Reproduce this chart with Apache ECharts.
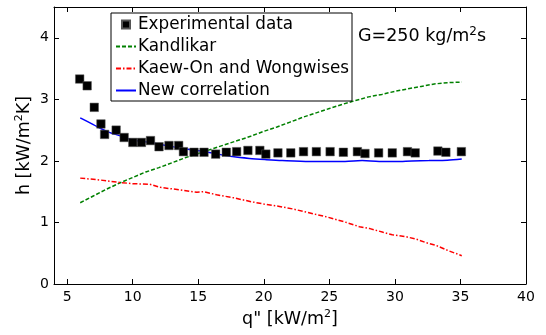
<!DOCTYPE html>
<html>
<head>
<meta charset="utf-8">
<script src="https://cdn.jsdelivr.net/npm/echarts@6/dist/echarts.min.js"></script>
<style>
  html, body { margin: 0; padding: 0; background: #fff; }
  #chart { width: 546px; height: 335px; }
</style>
</head>
<body>
<div id="chart"></div>
<script>
// experimental points [q, h]
const expData = [
  [5.96, 3.33], [6.53, 3.22], [7.07, 2.87], [7.58, 2.60], [7.86, 2.43],
  [8.74, 2.50], [9.35, 2.38], [10.01, 2.30], [10.67, 2.30], [11.36, 2.33],
  [12.01, 2.23], [12.77, 2.25], [13.51, 2.25], [13.87, 2.15], [14.68, 2.14],
  [15.44, 2.14], [16.33, 2.11], [17.14, 2.14], [17.93, 2.15], [18.79, 2.17],
  [19.70, 2.17], [20.16, 2.11], [21.08, 2.13], [22.06, 2.13], [23.03, 2.15],
  [24.01, 2.15], [25.06, 2.15], [26.07, 2.14], [27.14, 2.15], [27.72, 2.12],
  [28.76, 2.13], [29.80, 2.13], [30.96, 2.15], [31.55, 2.13], [33.28, 2.16],
  [33.89, 2.14], [35.07, 2.15]
]

const kandlikar = [
  [6, 1.32], [7, 1.43], [8, 1.54], [9, 1.64], [10, 1.73], [11, 1.82],
  [12, 1.89], [13, 1.97], [14, 2.05], [15, 2.12], [16, 2.19], [17, 2.26],
  [18, 2.33], [19, 2.40], [20, 2.48], [21, 2.55], [22, 2.63], [23, 2.71],
  [24, 2.78], [25, 2.85], [26, 2.92], [27, 2.98], [28, 3.04], [29, 3.08],
  [30, 3.13], [31, 3.17], [32, 3.21], [33, 3.25], [34, 3.27], [35.1, 3.28]
]

const kaewOn = [
  [6.0, 1.72], [7.5, 1.69], [9.0, 1.65], [10.0, 1.63], [11.3, 1.62],
  [12.1, 1.57], [13.6, 1.53], [14.9, 1.49], [15.4, 1.50], [16.4, 1.45],
  [17.7, 1.40], [19.2, 1.33], [20.0, 1.30], [21.2, 1.26], [22.2, 1.22],
  [23.0, 1.18], [24.0, 1.13], [24.8, 1.09], [26.3, 1.00], [27.3, 0.93],
  [28.1, 0.90], [29.1, 0.84], [29.8, 0.80], [30.8, 0.77], [31.6, 0.73],
  [32.4, 0.67], [33.1, 0.63], [34.1, 0.54], [35.1, 0.46]
]

const newCorr = [
  [6.0, 2.70], [7.0, 2.59], [8.0, 2.48], [9.0, 2.41], [10.0, 2.34],
  [11.3, 2.30], [12.8, 2.24], [14.1, 2.195], [15.5, 2.15], [16.5, 2.11],
  [17.6, 2.07], [18.9, 2.04], [20.2, 2.02], [21.4, 2.005], [23.5, 1.99],
  [25.0, 1.99], [26.2, 1.99], [27.5, 2.005], [28.8, 1.99], [30.1, 1.99],
  [31.3, 2.0], [32.6, 2.005], [34.0, 2.01], [35.1, 2.03]
]

const xTicks = [5, 10, 15, 20, 25, 30, 35, 40]
const yTicks = [0, 1, 2, 3, 4]

const FONT = 'DejaVu Sans, Liberation Sans, sans-serif'
const chart = echarts.init(document.getElementById('chart'))

// superscript "2" as rich text
const supRich = {
  sup: { fontSize: 11, lineHeight: 10, verticalAlign: 'top', fontFamily: FONT, color: '#000' }
}

const axisLine = { lineStyle: { color: '#000', width: 1 } }
const baseX = {
  type: 'value', min: 4, max: 40,
  axisLine: { ...axisLine, onZero: false },
  splitLine: { show: false }
}
const baseY = {
  type: 'value', min: 0, max: 4.5,
  axisLine: { ...axisLine, onZero: false },
  splitLine: { show: false }
}

chart.setOption({
  animation: false,
  backgroundColor: '#fff',
  textStyle: { fontFamily: FONT, color: '#000' },
  grid: { left: 54, right: 20, top: 7, bottom: 51 },
  xAxis: [
    {
      ...baseX, position: 'bottom',
      name: 'q" [kW/m{sup|2}]', nameLocation: 'middle', nameGap: 21,
      nameTextStyle: { fontSize: 17.5, lineHeight: 21, color: '#000', fontFamily: FONT, rich: supRich },
      axisTick: { inside: true, length: 5, customValues: xTicks, lineStyle: { color: '#000' } },
      axisLabel: { customValues: xTicks, fontSize: 14, color: '#000', margin: 6, fontFamily: FONT }
    },
    {
      ...baseX, position: 'top',
      axisTick: { inside: true, length: 5, customValues: xTicks, lineStyle: { color: '#000' } },
      axisLabel: { show: false }
    }
  ],
  yAxis: [
    {
      ...baseY, position: 'left',
      name: 'h [kW/m{sup|2}K]', nameLocation: 'middle', nameGap: 19, nameMoveOverlap: false,
      nameTextStyle: { fontSize: 17.5, lineHeight: 21, color: '#000', fontFamily: FONT, rich: supRich },
      axisTick: { inside: true, length: 5, customValues: yTicks, lineStyle: { color: '#000' } },
      axisLabel: { customValues: yTicks, fontSize: 14, color: '#000', margin: 5, fontFamily: FONT }
    },
    {
      ...baseY, position: 'right',
      axisTick: { inside: true, length: 5, customValues: yTicks, lineStyle: { color: '#000' } },
      axisLabel: { show: false }
    }
  ],
  legend: {
    orient: 'vertical',
    left: 111, top: 13,
    backgroundColor: '#fff',
    borderColor: '#000', borderWidth: 1, borderRadius: 0,
    padding: [3, 3, 2, 4],
    itemWidth: 20, itemHeight: 8, itemGap: 5,
    textStyle: { fontSize: 16.8, color: '#000', fontFamily: FONT, padding: [0, 0, 0, -3] },
    data: [
      { name: 'Experimental data', icon: 'path://M0,0 L1,0 L1,1 L0,1 Z' },
      { name: 'Kandlikar', itemStyle: { opacity: 0 } },
      { name: 'Kaew-On and Wongwises', itemStyle: { opacity: 0 } },
      { name: 'New correlation', itemStyle: { opacity: 0 } }
    ]
  },
  graphic: [{
    type: 'text', left: 358, top: 26,
    style: {
      text: 'G=250 kg/m{sup|2}s', fontSize: 17.5, lineHeight: 21, fill: '#000', fontFamily: FONT,
      rich: { sup: { fontSize: 12, lineHeight: 10, verticalAlign: 'top', fontFamily: FONT, fill: '#000' } }
    }
  }],
  series: [
    {
      name: 'Kandlikar', type: 'line', data: kandlikar, symbol: 'none',
      lineStyle: { color: '#008000', width: 1.5, type: [4, 2] }, itemStyle: { color: '#008000' }
    },
    {
      name: 'Kaew-On and Wongwises', type: 'line', data: kaewOn, symbol: 'none',
      lineStyle: { color: '#ff0000', width: 1.5, type: [5, 2, 1.5, 2] }, itemStyle: { color: '#ff0000' }
    },
    {
      name: 'New correlation', type: 'line', data: newCorr, symbol: 'none', smooth: 0.3,
      lineStyle: { color: '#0000ff', width: 1.5 }, itemStyle: { color: '#0000ff' }
    },
    {
      name: 'Experimental data', type: 'scatter', data: expData,
      symbol: 'rect', symbolSize: 8.5, z: 5,
      itemStyle: { color: '#000', borderColor: '#555', borderWidth: 0.5, opacity: 1 }
    }
  ]
})
</script>
</body>
</html>
